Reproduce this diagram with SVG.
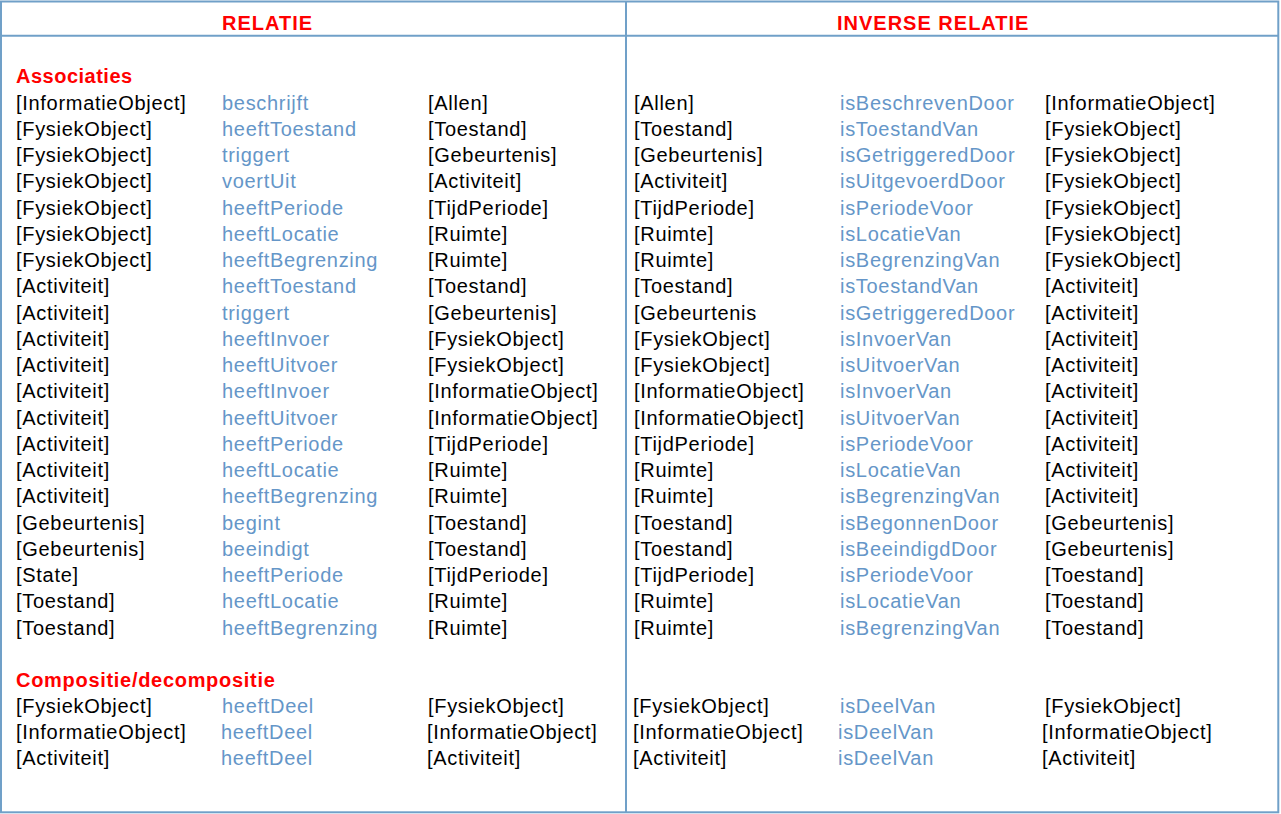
<svg xmlns="http://www.w3.org/2000/svg" width="1281" height="814" viewBox="0 0 1281 814">
<style>
text{font-family:"Liberation Sans",Arial,sans-serif;font-size:20px;letter-spacing:0.7px}
.k{fill:#000}
.b{fill:#6596c8}
.h{fill:#ff0000;font-weight:bold}
.ln{stroke:#70a0c8;stroke-width:2;fill:none}
</style>
<rect width="1281" height="814" fill="#fff"/>
<g id="grid">
<rect class="ln" x="1" y="1.5" width="1277.3" height="810.8"/>
<line class="ln" x1="1" y1="35.7" x2="1278.3" y2="35.7"/>
<line class="ln" x1="626" y1="1.5" x2="626" y2="812.3"/>
</g>
<g id="headers">
<text class="h" x="222" y="30" style="letter-spacing:1px">RELATIE</text>
<text class="h" x="837" y="30" style="letter-spacing:1px">INVERSE RELATIE</text>
</g>
<g id="sections">
<text class="h" x="16" y="83" style="letter-spacing:0.5px">Associaties</text>
<text class="h" x="16" y="687">Compositie/decompositie</text>
</g>
<g id="relatie" transform="translate(0,-1)">
<g class="k">
<text x="16" y="110.5">[InformatieObject]</text>
<text x="16" y="136.75">[FysiekObject]</text>
<text x="16" y="163">[FysiekObject]</text>
<text x="16" y="189.25">[FysiekObject]</text>
<text x="16" y="215.5">[FysiekObject]</text>
<text x="16" y="241.75">[FysiekObject]</text>
<text x="16" y="268">[FysiekObject]</text>
<text x="16" y="294.25">[Activiteit]</text>
<text x="16" y="320.5">[Activiteit]</text>
<text x="16" y="346.75">[Activiteit]</text>
<text x="16" y="373">[Activiteit]</text>
<text x="16" y="399.25">[Activiteit]</text>
<text x="16" y="425.5">[Activiteit]</text>
<text x="16" y="451.75">[Activiteit]</text>
<text x="16" y="478">[Activiteit]</text>
<text x="16" y="504.25">[Activiteit]</text>
<text x="16" y="530.5">[Gebeurtenis]</text>
<text x="16" y="556.75">[Gebeurtenis]</text>
<text x="16" y="583">[State]</text>
<text x="16" y="609.25">[Toestand]</text>
<text x="16" y="635.5">[Toestand]</text>
<text x="16" y="714">[FysiekObject]</text>
<text x="16" y="740">[InformatieObject]</text>
<text x="16" y="766">[Activiteit]</text>
</g>
<g class="b">
<text x="222" y="110.5">beschrijft</text>
<text x="222" y="136.75">heeftToestand</text>
<text x="222" y="163">triggert</text>
<text x="222" y="189.25">voertUit</text>
<text x="222" y="215.5">heeftPeriode</text>
<text x="222" y="241.75">heeftLocatie</text>
<text x="222" y="268">heeftBegrenzing</text>
<text x="222" y="294.25">heeftToestand</text>
<text x="222" y="320.5">triggert</text>
<text x="222" y="346.75">heeftInvoer</text>
<text x="222" y="373">heeftUitvoer</text>
<text x="222" y="399.25">heeftInvoer</text>
<text x="222" y="425.5">heeftUitvoer</text>
<text x="222" y="451.75">heeftPeriode</text>
<text x="222" y="478">heeftLocatie</text>
<text x="222" y="504.25">heeftBegrenzing</text>
<text x="222" y="530.5">begint</text>
<text x="222" y="556.75">beeindigt</text>
<text x="222" y="583">heeftPeriode</text>
<text x="222" y="609.25">heeftLocatie</text>
<text x="222" y="635.5">heeftBegrenzing</text>
<text x="222" y="714">heeftDeel</text>
<text x="221" y="740">heeftDeel</text>
<text x="221" y="766">heeftDeel</text>
</g>
<g class="k">
<text x="428" y="110.5">[Allen]</text>
<text x="428" y="136.75">[Toestand]</text>
<text x="428" y="163">[Gebeurtenis]</text>
<text x="428" y="189.25">[Activiteit]</text>
<text x="428" y="215.5">[TijdPeriode]</text>
<text x="428" y="241.75">[Ruimte]</text>
<text x="428" y="268">[Ruimte]</text>
<text x="428" y="294.25">[Toestand]</text>
<text x="428" y="320.5">[Gebeurtenis]</text>
<text x="428" y="346.75">[FysiekObject]</text>
<text x="428" y="373">[FysiekObject]</text>
<text x="428" y="399.25">[InformatieObject]</text>
<text x="428" y="425.5">[InformatieObject]</text>
<text x="428" y="451.75">[TijdPeriode]</text>
<text x="428" y="478">[Ruimte]</text>
<text x="428" y="504.25">[Ruimte]</text>
<text x="428" y="530.5">[Toestand]</text>
<text x="428" y="556.75">[Toestand]</text>
<text x="428" y="583">[TijdPeriode]</text>
<text x="428" y="609.25">[Ruimte]</text>
<text x="428" y="635.5">[Ruimte]</text>
<text x="428" y="714">[FysiekObject]</text>
<text x="427" y="740">[InformatieObject]</text>
<text x="427" y="766">[Activiteit]</text>
</g>
</g>
<g id="inverse-relatie" transform="translate(0,-1)">
<g class="k">
<text x="634" y="110.5">[Allen]</text>
<text x="634" y="136.75">[Toestand]</text>
<text x="634" y="163">[Gebeurtenis]</text>
<text x="634" y="189.25">[Activiteit]</text>
<text x="634" y="215.5">[TijdPeriode]</text>
<text x="634" y="241.75">[Ruimte]</text>
<text x="634" y="268">[Ruimte]</text>
<text x="634" y="294.25">[Toestand]</text>
<text x="634" y="320.5">[Gebeurtenis</text>
<text x="634" y="346.75">[FysiekObject]</text>
<text x="634" y="373">[FysiekObject]</text>
<text x="634" y="399.25">[InformatieObject]</text>
<text x="634" y="425.5">[InformatieObject]</text>
<text x="634" y="451.75">[TijdPeriode]</text>
<text x="634" y="478">[Ruimte]</text>
<text x="634" y="504.25">[Ruimte]</text>
<text x="634" y="530.5">[Toestand]</text>
<text x="634" y="556.75">[Toestand]</text>
<text x="634" y="583">[TijdPeriode]</text>
<text x="634" y="609.25">[Ruimte]</text>
<text x="634" y="635.5">[Ruimte]</text>
<text x="633" y="714">[FysiekObject]</text>
<text x="633" y="740">[InformatieObject]</text>
<text x="633" y="766">[Activiteit]</text>
</g>
<g class="b">
<text x="840" y="110.5">isBeschrevenDoor</text>
<text x="840" y="136.75">isToestandVan</text>
<text x="840" y="163">isGetriggeredDoor</text>
<text x="840" y="189.25">isUitgevoerdDoor</text>
<text x="840" y="215.5">isPeriodeVoor</text>
<text x="840" y="241.75">isLocatieVan</text>
<text x="840" y="268">isBegrenzingVan</text>
<text x="840" y="294.25">isToestandVan</text>
<text x="840" y="320.5">isGetriggeredDoor</text>
<text x="840" y="346.75">isInvoerVan</text>
<text x="840" y="373">isUitvoerVan</text>
<text x="840" y="399.25">isInvoerVan</text>
<text x="840" y="425.5">isUitvoerVan</text>
<text x="840" y="451.75">isPeriodeVoor</text>
<text x="840" y="478">isLocatieVan</text>
<text x="840" y="504.25">isBegrenzingVan</text>
<text x="840" y="530.5">isBegonnenDoor</text>
<text x="840" y="556.75">isBeeindigdDoor</text>
<text x="840" y="583">isPeriodeVoor</text>
<text x="840" y="609.25">isLocatieVan</text>
<text x="840" y="635.5">isBegrenzingVan</text>
<text x="840" y="714">isDeelVan</text>
<text x="838" y="740">isDeelVan</text>
<text x="838" y="766">isDeelVan</text>
</g>
<g class="k">
<text x="1045" y="110.5">[InformatieObject]</text>
<text x="1045" y="136.75">[FysiekObject]</text>
<text x="1045" y="163">[FysiekObject]</text>
<text x="1045" y="189.25">[FysiekObject]</text>
<text x="1045" y="215.5">[FysiekObject]</text>
<text x="1045" y="241.75">[FysiekObject]</text>
<text x="1045" y="268">[FysiekObject]</text>
<text x="1045" y="294.25">[Activiteit]</text>
<text x="1045" y="320.5">[Activiteit]</text>
<text x="1045" y="346.75">[Activiteit]</text>
<text x="1045" y="373">[Activiteit]</text>
<text x="1045" y="399.25">[Activiteit]</text>
<text x="1045" y="425.5">[Activiteit]</text>
<text x="1045" y="451.75">[Activiteit]</text>
<text x="1045" y="478">[Activiteit]</text>
<text x="1045" y="504.25">[Activiteit]</text>
<text x="1045" y="530.5">[Gebeurtenis]</text>
<text x="1045" y="556.75">[Gebeurtenis]</text>
<text x="1045" y="583">[Toestand]</text>
<text x="1045" y="609.25">[Toestand]</text>
<text x="1045" y="635.5">[Toestand]</text>
<text x="1045" y="714">[FysiekObject]</text>
<text x="1042" y="740">[InformatieObject]</text>
<text x="1042" y="766">[Activiteit]</text>
</g>
</g>
</svg>
